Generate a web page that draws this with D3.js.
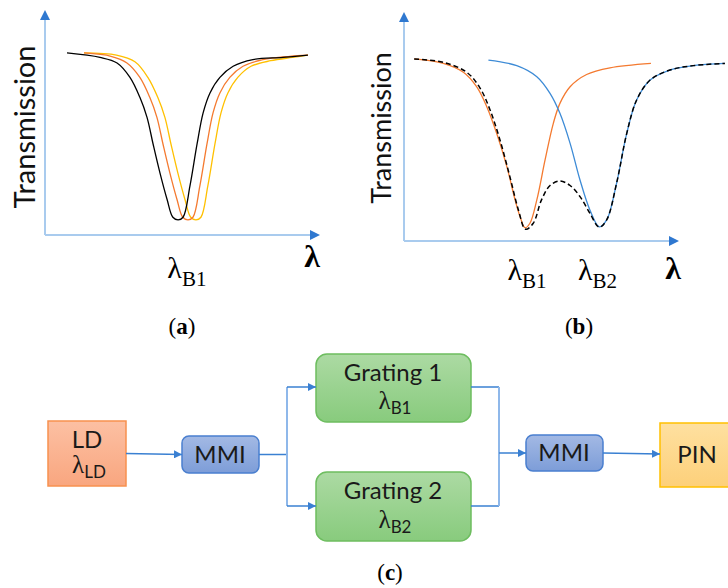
<!DOCTYPE html>
<html>
<head>
<meta charset="utf-8">
<script src="https://cdn.jsdelivr.net/npm/d3@7"></script>
<style>
  body { margin: 0; background: #fff; }
  svg { display: block; }
</style>
</head>
<body>
<div id="chart"></div>
<script>
// ---- curve data, [lambda, transmission] ----
// panel (a): one grating dip, shifted three times
var dipBlack = [[0.8,0.82],[2.0,0.80],[2.62,0.775],[3.09,0.71],[3.45,0.62],[3.71,0.53],[3.93,0.41],[4.18,0.28],[4.44,0.16],[4.65,0.08],[4.84,0.068],[5.02,0.08],[5.27,0.22],[5.53,0.41],[5.75,0.55],[6.0,0.64],[6.36,0.71],[6.84,0.76],[7.56,0.79],[8.65,0.80],[9.56,0.81]];
var dipOrange = [[1.42,0.82],[2.4,0.805],[2.98,0.775],[3.45,0.71],[3.81,0.62],[4.07,0.53],[4.29,0.41],[4.54,0.28],[4.8,0.16],[5.01,0.08],[5.2,0.068],[5.38,0.08],[5.63,0.22],[5.89,0.41],[6.11,0.55],[6.36,0.64],[6.72,0.71],[7.2,0.76],[7.92,0.79],[8.9,0.805],[9.56,0.81]];
var dipYellow = [[1.42,0.82],[2.6,0.81],[3.27,0.78],[3.74,0.71],[4.1,0.62],[4.36,0.53],[4.58,0.41],[4.83,0.28],[5.09,0.16],[5.3,0.08],[5.49,0.068],[5.67,0.08],[5.92,0.22],[6.18,0.41],[6.4,0.55],[6.65,0.64],[7.01,0.71],[7.49,0.76],[8.21,0.785],[9.0,0.80],[9.56,0.81]];

// panel (b): grating 1, grating 2 and the combined (dashed) response
var grating1 = [[0.37,0.82],[1.43,0.80],[2.16,0.76],[2.64,0.695],[3.01,0.605],[3.37,0.485],[3.74,0.335],[4.04,0.185],[4.22,0.11],[4.4,0.06],[4.58,0.08],[4.83,0.185],[5.13,0.365],[5.43,0.53],[5.67,0.62],[6.04,0.695],[6.64,0.75],[7.49,0.78],[8.98,0.80]];
var grating2 = [[3.07,0.815],[4.1,0.79],[4.83,0.74],[5.31,0.665],[5.67,0.575],[6.04,0.44],[6.4,0.275],[6.76,0.14],[7.1,0.064],[7.37,0.095],[7.73,0.26],[8.1,0.485],[8.46,0.635],[8.95,0.725],[9.67,0.77],[10.52,0.79],[11.67,0.80]];
var combined = [[0.37,0.82],[1.43,0.805],[2.28,0.76],[2.76,0.69],[3.13,0.59],[3.49,0.455],[3.85,0.29],[4.16,0.14],[4.42,0.053],[4.7,0.08],[5.0,0.185],[5.31,0.25],[5.67,0.27],[6.04,0.25],[6.4,0.2],[6.76,0.125],[7.1,0.062],[7.37,0.095],[7.73,0.26],[8.1,0.485],[8.46,0.635],[8.95,0.725],[9.67,0.77],[10.52,0.79],[11.67,0.80]];

// lambda labels under the x axis (position in lambda units)
var markA = [{lam: 5.16, sub: "B1"}];
var markB = [{lam: 4.47, sub: "B1"}, {lam: 7.04, sub: "B2"}];

// block diagram labels
var blockNames = ["LD", "MMI", "Grating 1", "Grating 2", "MMI", "PIN"];
var blockSubs = ["LD", "", "B1", "B2", "", ""];

var W = 728, H = 588;
var svg = d3.select("#chart").append("svg")
	.attr("width", W)
	.attr("height", H);

var defs = svg.append("defs");

// arrow heads
defs.append("marker")
	.attr("id", "axisHead")
	.attr("viewBox", "0 0 10 10")
	.attr("refX", 0).attr("refY", 5)
	.attr("markerWidth", 10).attr("markerHeight", 10)
	.attr("markerUnits", "userSpaceOnUse")
	.attr("orient", "auto")
	.append("path")
	.attr("d", "M0,0 L10,5 L0,10 Z")
	.attr("fill", "#2f78d0");

defs.append("marker")
	.attr("id", "flowHead")
	.attr("viewBox", "0 0 10 10")
	.attr("refX", 10).attr("refY", 5)
	.attr("markerWidth", 8).attr("markerHeight", 8)
	.attr("markerUnits", "userSpaceOnUse")
	.attr("orient", "auto")
	.append("path")
	.attr("d", "M0,0 L10,5 L0,10 Z")
	.attr("fill", "#3a80d2");

// fills for the blocks
function grad(id, top, bottom) {
	var g = defs.append("linearGradient").attr("id", id)
		.attr("x1", 0).attr("y1", 0).attr("x2", 0).attr("y2", 1);
	g.append("stop").attr("offset", "0%").attr("stop-color", top);
	g.append("stop").attr("offset", "100%").attr("stop-color", bottom);
}
grad("gLD", "#fcc0a3", "#f9a67f");
grad("gMMI", "#a3b9e4", "#7d9dd8");
grad("gGr", "#acdaa3", "#88cb7d");
grad("gPIN", "#fee0a0", "#fdd07a");

// ---------------- plots (a) and (b) ----------------
function plotPanel(xs, ys, series, marks, opts) {
	var g = svg.append("g");
	var x0 = xs.range()[0];
	var y0 = ys.range()[0];

	// axes (arrow heads add 10px at the end)
	g.append("line")
		.attr("x1", x0).attr("y1", y0).attr("x2", x0).attr("y2", opts.axisTop + 10)
		.attr("stroke", "#a9cbee").attr("stroke-width", 2)
		.attr("marker-end", "url(#axisHead)");
	g.append("line")
		.attr("x1", x0).attr("y1", y0).attr("x2", opts.axisRight - 10).attr("y2", y0)
		.attr("stroke", "#a9cbee").attr("stroke-width", 2)
		.attr("marker-end", "url(#axisHead)");

	// y title
	g.append("text")
		.attr("transform", "translate(" + opts.titleX + "," + opts.titleY + ") rotate(-90)")
		.attr("text-anchor", "middle")
		.attr("font-family", "Lato, 'Open Sans', sans-serif")
		.attr("font-size", opts.titleSize)
		.attr("fill", "#111")
		.text("Transmission");

	// big lambda at the end of the x axis
	g.append("text")
		.attr("x", opts.lamX).attr("y", opts.lamY)
		.attr("text-anchor", "middle")
		.attr("font-family", "'Liberation Serif', 'DejaVu Serif', serif")
		.attr("font-weight", 700)
		.attr("font-size", 32)
		.attr("fill", "#000")
		.text("λ");

	var line = d3.line()
		.x(function(d) { return xs(d[0]); })
		.y(function(d) { return ys(d[1]); })
		.curve(d3.curveCatmullRom.alpha(0.5));

	g.selectAll(".curve")
		.data(series)
		.enter().append("path")
		.attr("class", "curve")
		.attr("d", function(s) { return line(s.pts); })
		.attr("fill", "none")
		.attr("stroke", function(s) { return s.color; })
		.attr("stroke-width", function(s) { return s.width; })
		.attr("stroke-dasharray", function(s) { return s.dash || null; });

	// lambda_B labels
	var lab = g.selectAll(".lamLabel")
		.data(marks)
		.enter().append("text")
		.attr("class", "lamLabel")
		.attr("x", function(d) { return xs(d.lam); })
		.attr("y", opts.markY)
		.attr("text-anchor", "middle")
		.attr("font-family", "'Liberation Serif', 'DejaVu Serif', serif")
		.attr("fill", "#000");
	lab.append("tspan").attr("font-size", 30).text("λ");
	lab.append("tspan").attr("font-size", 21).attr("dy", 8).text(function(d) { return d.sub; });
}

var xA = d3.scaleLinear().domain([0, 10]).range([45, 320]);
var yA = d3.scaleLinear().domain([0, 1]).range([235, 13]);

plotPanel(xA, yA, [
		{pts: dipYellow, color: "#ffc000", width: 1.3},
		{pts: dipOrange, color: "#f47a30", width: 1.3},
		{pts: dipBlack, color: "#000", width: 1.3}
	], markA, {
	axisTop: 10, axisRight: 320,
	titleX: 35, titleY: 127, titleSize: 29,
	lamX: 312, lamY: 267, markY: 278
});

var xB = d3.scaleLinear().domain([0, 10]).range([404, 679]);
var yB = d3.scaleLinear().domain([0, 1]).range([241, 19]);

plotPanel(xB, yB, [
		{pts: grating1, color: "#f47a30", width: 1.3},
		{pts: grating2, color: "#3d8bd6", width: 1.3},
		{pts: combined, color: "#000", width: 1.5, dash: "5,3"}
	], markB, {
	axisTop: 12, axisRight: 679,
	titleX: 391, titleY: 128, titleSize: 27,
	lamX: 673, lamY: 279, markY: 280
});

// captions
function caption(x, y, letter) {
	var t = svg.append("text")
		.attr("x", x).attr("y", y)
		.attr("text-anchor", "middle")
		.attr("font-family", "'Liberation Serif', 'DejaVu Serif', serif")
		.attr("font-size", 23)
		.attr("fill", "#000");
	t.append("tspan").text("(");
	t.append("tspan").attr("font-weight", 700).text(letter);
	t.append("tspan").text(")");
}
caption(182, 334, "a");
caption(579, 334, "b");
caption(390, 580, "c");

// ---------------- block diagram (c) ----------------
var layout = [
	{x: 48, y: 421, w: 78, h: 65, rx: 0, fill: "url(#gLD)", stroke: "#f7914f", cx: 87},
	{x: 182, y: 436, w: 77, h: 37, rx: 7, fill: "url(#gMMI)", stroke: "#4a7fcf", cx: 220},
	{x: 316, y: 354, w: 155, h: 68, rx: 11, fill: "url(#gGr)", stroke: "#6dbd5f", cx: 393},
	{x: 316, y: 472, w: 155, h: 69, rx: 11, fill: "url(#gGr)", stroke: "#6dbd5f", cx: 393},
	{x: 526, y: 435, w: 77, h: 36, rx: 7, fill: "url(#gMMI)", stroke: "#4a7fcf", cx: 564},
	{x: 660, y: 423, w: 80, h: 64, rx: 0, fill: "url(#gPIN)", stroke: "#ffc000", cx: 697}
];

var blocks = svg.append("g").selectAll("g")
	.data(blockNames)
	.enter().append("g");

blocks.append("rect")
	.attr("x", function(d, i) { return layout[i].x; })
	.attr("y", function(d, i) { return layout[i].y; })
	.attr("width", function(d, i) { return layout[i].w; })
	.attr("height", function(d, i) { return layout[i].h; })
	.attr("rx", function(d, i) { return layout[i].rx; })
	.attr("fill", function(d, i) { return layout[i].fill; })
	.attr("stroke", function(d, i) { return layout[i].stroke; })
	.attr("stroke-width", 1.5);

blocks.append("text")
	.attr("x", function(d, i) { return layout[i].cx; })
	.attr("y", function(d, i) {
		var L = layout[i];
		return blockSubs[i] ? L.y + 27 : L.y + L.h / 2 + 8;
	})
	.attr("text-anchor", "middle")
	.attr("font-family", "Lato, 'Open Sans', sans-serif")
	.attr("font-size", 24)
	.attr("fill", "#1a1a1a")
	.text(function(d) { return d; });

blocks.each(function(d, i) {
	if (!blockSubs[i]) return;
	var L = layout[i];
	var t = d3.select(this).append("text")
		.attr("x", L.cx + 2)
		.attr("y", L.y + L.h - 13)
		.attr("text-anchor", "middle")
		.attr("fill", "#1a1a1a");
	t.append("tspan")
		.attr("font-family", "'Liberation Serif', 'DejaVu Serif', serif")
		.attr("font-size", 25).text("λ");
	t.append("tspan")
		.attr("font-family", "Lato, 'Open Sans', sans-serif")
		.attr("font-size", 17).attr("dy", 5).text(blockSubs[i]);
});

// connections
var conn = svg.append("g")
	.attr("fill", "none")
	.attr("stroke", "#3a80d2")
	.attr("stroke-width", 1.5);

var ld = layout[0], m1 = layout[1], g1 = layout[2], g2 = layout[3], m2 = layout[4], pin = layout[5];
var m1y = m1.y + m1.h / 2, m2y = m2.y + m2.h / 2;
var g1y = g1.y + 33, g2y = g2.y + 34;
var splitX = 287, joinX = 499;

conn.append("line").attr("x1", ld.x + ld.w).attr("y1", m1y - 1).attr("x2", m1.x).attr("y2", m1y)
	.attr("marker-end", "url(#flowHead)");
conn.append("line").attr("x1", m1.x + m1.w).attr("y1", m1y).attr("x2", splitX).attr("y2", m1y);
conn.append("line").attr("x1", splitX).attr("y1", g1y).attr("x2", splitX).attr("y2", g2y)
	.attr("stroke", "#8fb8ea").attr("stroke-width", 2);
conn.append("line").attr("x1", splitX).attr("y1", g1y).attr("x2", g1.x).attr("y2", g1y)
	.attr("marker-end", "url(#flowHead)");
conn.append("line").attr("x1", splitX).attr("y1", g2y).attr("x2", g2.x).attr("y2", g2y)
	.attr("marker-end", "url(#flowHead)");
conn.append("line").attr("x1", g1.x + g1.w).attr("y1", g1y).attr("x2", joinX).attr("y2", g1y);
conn.append("line").attr("x1", g2.x + g2.w).attr("y1", g2y).attr("x2", joinX).attr("y2", g2y);
conn.append("line").attr("x1", joinX).attr("y1", g1y).attr("x2", joinX).attr("y2", g2y)
	.attr("stroke", "#8fb8ea").attr("stroke-width", 2);
conn.append("line").attr("x1", joinX).attr("y1", m2y).attr("x2", m2.x).attr("y2", m2y)
	.attr("marker-end", "url(#flowHead)");
conn.append("line").attr("x1", m2.x + m2.w).attr("y1", m2y).attr("x2", pin.x).attr("y2", m2y + 1)
	.attr("marker-end", "url(#flowHead)");
</script>
</body>
</html>
